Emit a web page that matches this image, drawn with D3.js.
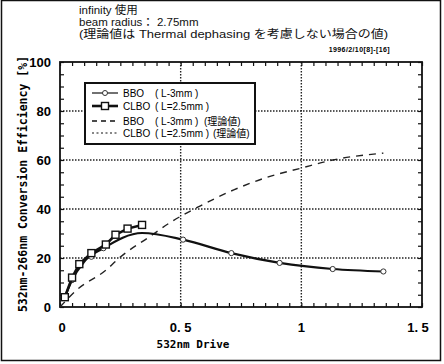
<!DOCTYPE html>
<html>
<head>
<meta charset="utf-8">
<script src="https://cdn.jsdelivr.net/npm/d3@7"></script>
<style>
  body { margin: 0; background: white; }
  svg { display: block; }
  text { font-family: "Liberation Sans", Arial, "Noto Sans CJK JP", sans-serif; }
</style>
</head>
<body>
<svg id="chart"></svg>
<script>
// header text
const headerLines = ["infinity 使用", "beam radius： 2.75mm", "(理論値は Thermal dephasing を考慮しない場合の値)"];
const stamp = "1996/2/10[8]-[16]";

// measured BBO (L-3mm)
const bboX = [0.02, 0.05, 0.1, 0.18, 0.34, 0.51, 0.71, 0.91, 1.13, 1.34];
const bboY = [4, 11, 18.5, 24, 30.2, 27.5, 22, 18, 15.5, 14.5];
// marker positions on the BBO line
const bboMarkX = [0.05, 0.13, 0.18, 0.51, 0.71, 0.91, 1.13, 1.34];
const bboMarkY = [11, 20.5, 24, 27.5, 22, 18, 15.5, 14.5];

// measured CLBO (L=2.5mm)
const clboX = [0.02, 0.05, 0.08, 0.13, 0.19, 0.23, 0.28, 0.34];
const clboY = [4, 12, 17.5, 22, 25.5, 29.5, 32, 33.5];

// theoretical BBO
const thX = [0.0, 0.07, 0.19, 0.25, 0.37, 0.46, 0.58, 0.72, 0.86, 1.0, 1.13, 1.34];
const thY = [0, 7, 15, 20.4, 28.6, 34.7, 41.2, 47.8, 53, 56.7, 60, 62.8];

const yTicks = [0, 20, 40, 60, 80, 100];
const xTicks = [0, 0.5, 1, 1.5];
const xTickLabels = ["0", "0. 5", "1", "1. 5"];

const legendLabels = [
  ["BBO", "( L-3mm )", ""],
  ["CLBO", "( L=2.5mm )", ""],
  ["BBO", "( L-3mm )", "(理論値)"],
  ["CLBO", "( L=2.5mm )", "(理論値)"]
];

const width = 444, height = 364;
const margin = { top: 62, right: 22, bottom: 57, left: 60 };
const innerW = width - margin.left - margin.right;
const innerH = height - margin.top - margin.bottom;

const svg = d3.select("#chart").attr("width", width).attr("height", height);

// outer frame
svg.append("rect")
  .attr("x", 1.5).attr("y", 0.5)
  .attr("width", 439).attr("height", 360)
  .attr("fill", "none").attr("stroke", "#111").attr("stroke-width", 1.5);

// header
const hdr = svg.selectAll("text.header")
  .data(headerLines)
  .enter()
  .append("text")
  .attr("class", "header")
  .attr("x", 79)
  .attr("y", (d, i) => 13.5 + i * 12.2)
  .style("font-size", (d, i) => i < 2 ? "11.5px" : "11px")
  .style("fill", "#111")
  .text(d => d);
hdr.filter((d, i) => i === 2)
  .attr("textLength", 309)
  .attr("lengthAdjust", "spacingAndGlyphs");

svg.append("text")
  .attr("x", 390).attr("y", 52)
  .attr("text-anchor", "end")
  .style("font-size", "7px")
  .style("font-weight", "bold")
  .style("letter-spacing", "0.4px")
  .text(stamp);

const g = svg.append("g").attr("transform", `translate(${margin.left},${margin.top})`);

const x = d3.scaleLinear().domain([0, 1.5]).range([0, innerW]);
const y = d3.scaleLinear().domain([0, 100]).range([innerH, 0]);

// dotted grid
g.append("g")
  .selectAll("line")
  .data(yTicks.filter(d => d > 0 && d < 100))
  .enter().append("line")
  .attr("x1", 0).attr("x2", innerW)
  .attr("y1", d => y(d)).attr("y2", d => y(d))
  .attr("stroke", "#222").attr("stroke-width", 1.4)
  .attr("stroke-dasharray", "1.5,1.5");

g.append("g")
  .selectAll("line")
  .data(xTicks.filter(d => d > 0 && d < 1.5))
  .enter().append("line")
  .attr("y1", 0).attr("y2", innerH)
  .attr("x1", d => x(d)).attr("x2", d => x(d))
  .attr("stroke", "#222").attr("stroke-width", 1.4)
  .attr("stroke-dasharray", "1.5,1.5");

// minor ticks, inward on all sides
const xMinor = d3.range(0, 1.5001, 0.05);
const yMinor = d3.range(0, 100.001, 5);

const bottomAxis = d3.axisTop(x).tickValues(xMinor).tickSize(4).tickFormat("");
const topAxis = d3.axisBottom(x).tickValues(xMinor).tickSize(4).tickFormat("");
const leftAxis = d3.axisRight(y).tickValues(yMinor).tickSize(4).tickFormat("");
const rightAxis = d3.axisLeft(y).tickValues(yMinor).tickSize(4).tickFormat("");

[[bottomAxis, `translate(0,${innerH})`], [topAxis, "translate(0,0)"],
 [leftAxis, "translate(0,0)"], [rightAxis, `translate(${innerW},0)`]].forEach(([ax, tr]) => {
  const a = g.append("g").attr("transform", tr).call(ax);
  a.select(".domain").remove();
  a.selectAll("line").attr("stroke", "#111").attr("stroke-width", 1.2);
});

// frame
g.append("rect")
  .attr("width", innerW).attr("height", innerH)
  .attr("fill", "none").attr("stroke", "#111").attr("stroke-width", 1.8);

// tick labels
g.selectAll("text.ylab")
  .data(yTicks)
  .enter().append("text")
  .attr("class", "ylab")
  .attr("x", -9)
  .attr("y", d => y(d) + 5)
  .attr("text-anchor", "end")
  .style("font-size", "13px")
  .style("font-weight", "bold")
  .text(d => d);

g.selectAll("text.xlab")
  .data(xTicks)
  .enter().append("text")
  .attr("class", "xlab")
  .attr("x", (d, i) => x(d) + (i === 0 ? 2 : i === 3 ? -4 : 0))
  .attr("y", innerH + 25)
  .attr("text-anchor", "middle")
  .style("font-size", "13px")
  .style("font-weight", "bold")
  .text((d, i) => xTickLabels[i]);

// axis titles
svg.append("text")
  .attr("x", 193).attr("y", 348)
  .attr("text-anchor", "middle")
  .style("font-size", "11px")
  .style("font-weight", "bold")
  .style("font-family", "'DejaVu Sans Mono', monospace")
  .text("532nm Drive");

svg.append("text")
  .attr("transform", "translate(27,184) rotate(-90)")
  .attr("text-anchor", "middle")
  .style("font-size", "11.5px")
  .style("font-weight", "bold")
  .style("font-family", "'DejaVu Sans Mono', monospace")
  .text("532nm-266nm Conversion Efficiency [%]");

const line = d3.line().x(d => x(d[0])).y(d => y(d[1]));

// theoretical BBO (dashed)
g.append("path")
  .datum(d3.zip(thX, thY))
  .attr("d", line.curve(d3.curveMonotoneX))
  .attr("fill", "none").attr("stroke", "#222")
  .attr("stroke-width", 1.4).attr("stroke-dasharray", "7,6");

// BBO measured
g.append("path")
  .datum(d3.zip(bboX, bboY))
  .attr("d", d3.line().x(d => x(d[0])).y(d => y(d[1])).curve(d3.curveMonotoneX))
  .attr("fill", "none").attr("stroke", "#111").attr("stroke-width", 2.2);

g.selectAll("circle.bbo")
  .data(d3.zip(bboMarkX, bboMarkY))
  .enter().append("circle")
  .attr("class", "bbo")
  .attr("cx", d => x(d[0])).attr("cy", d => y(d[1]))
  .attr("r", 2.6)
  .attr("fill", "white").attr("stroke", "#333").attr("stroke-width", 1);

// CLBO measured
g.append("path")
  .datum(d3.zip(clboX, clboY))
  .attr("d", d3.line().x(d => x(d[0])).y(d => y(d[1])))
  .attr("fill", "none").attr("stroke", "#111").attr("stroke-width", 2.6);

g.selectAll("rect.clbo")
  .data(d3.zip(clboX, clboY))
  .enter().append("rect")
  .attr("class", "clbo")
  .attr("x", d => x(d[0]) - 3.5).attr("y", d => y(d[1]) - 3.5)
  .attr("width", 7).attr("height", 7)
  .attr("fill", "white").attr("stroke", "#111").attr("stroke-width", 1.4);

// legend
const lg = svg.append("g");
lg.append("rect")
  .attr("x", 85).attr("y", 83).attr("width", 170).attr("height", 61)
  .attr("fill", "white").attr("stroke", "#111").attr("stroke-width", 2);

const rowY = [93, 106, 121, 133];
const styles = [
  { w: 1.2, dash: null, mark: "circle" },
  { w: 2.6, dash: null, mark: "square" },
  { w: 1.4, dash: "5,4", mark: null },
  { w: 1.2, dash: "2,2.5", mark: null }
];

legendLabels.forEach((lab, i) => {
  const ly = rowY[i];
  const s = styles[i];
  const ln = lg.append("line")
    .attr("x1", 92).attr("x2", 118).attr("y1", ly).attr("y2", ly)
    .attr("stroke", "#111").attr("stroke-width", s.w);
  if (s.dash) ln.attr("stroke-dasharray", s.dash);
  if (s.mark === "circle") {
    lg.append("circle").attr("cx", 105).attr("cy", ly).attr("r", 2.5)
      .attr("fill", "white").attr("stroke", "#333");
  } else if (s.mark === "square") {
    lg.append("rect").attr("x", 101.5).attr("y", ly - 3.5).attr("width", 7).attr("height", 7)
      .attr("fill", "white").attr("stroke", "#111").attr("stroke-width", 1.4);
  }
  lg.append("text").attr("x", 123).attr("y", ly + 4)
    .style("font-size", "10px").text(lab[0]);
  lg.append("text").attr("x", 155).attr("y", ly + 4)
    .style("font-size", "10px").text(lab[1]);
  if (lab[2]) {
    lg.append("text").attr("x", i === 2 ? 204 : 213).attr("y", ly + 4)
      .style("font-size", "10px").text(lab[2]);
  }
});
</script>
</body>
</html>
